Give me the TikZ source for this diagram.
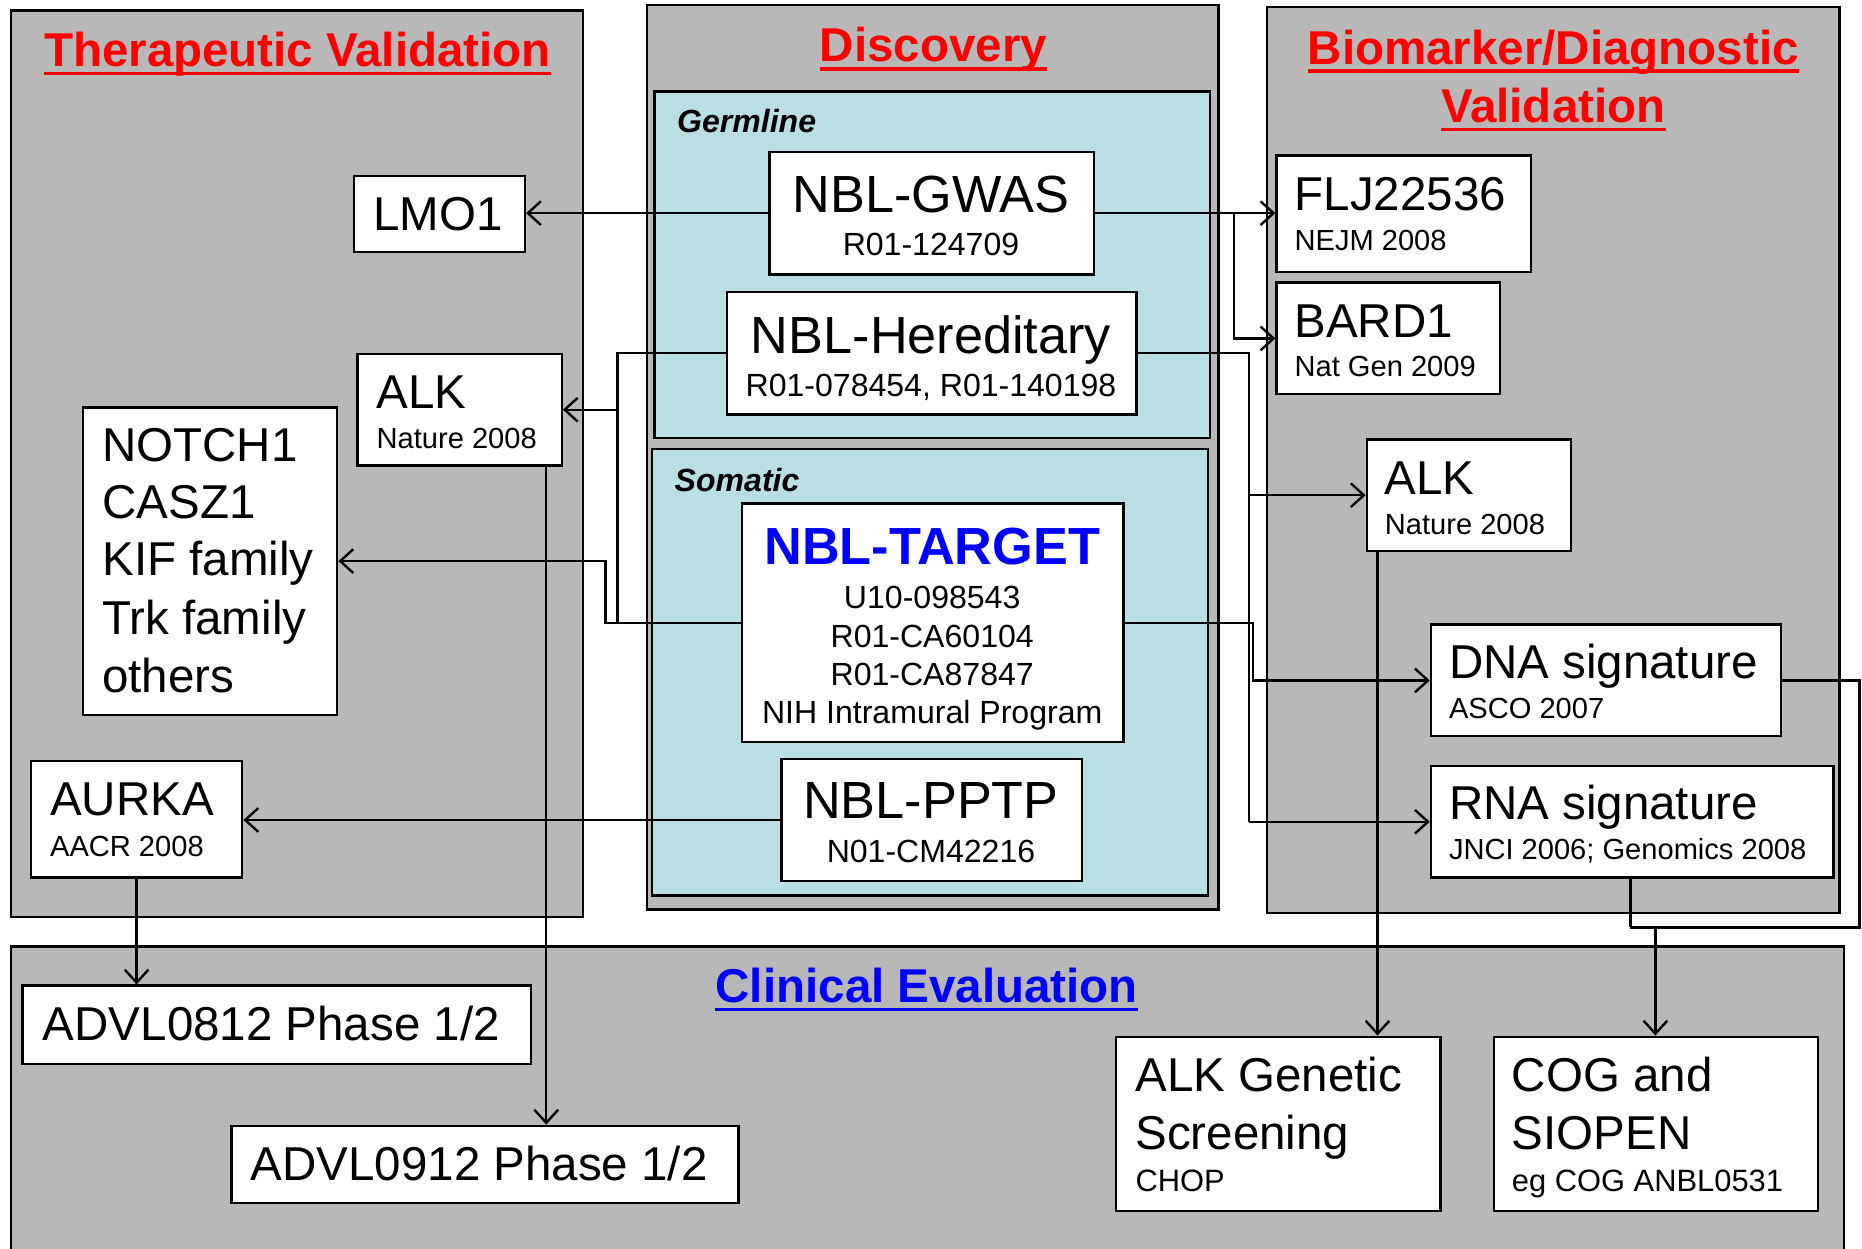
\documentclass[tikz,border=0pt]{standalone}
\usepackage{fontspec}
\setmainfont{Liberation Sans}
\usetikzlibrary{arrows.meta}
\definecolor{panelgray}{RGB}{184,184,184}
\definecolor{lightblue}{RGB}{185,223,227}
\definecolor{ttlred}{RGB}{255,0,0}
\definecolor{ttlblue}{RGB}{0,0,255}
\newcommand\fsz[1]{\fontsize{#1}{#1}\selectfont}
\begin{document}
\begin{tikzpicture}[x=1pt,y=-1pt,
  panel/.style={draw=black, fill=panelgray, line width=2pt},
  innerpanel/.style={draw=black, fill=lightblue, line width=2pt},
  box/.style={draw=black, fill=white, line width=2pt, anchor=north west, inner sep=0pt},
  txt/.style={inner sep=0pt, anchor=base west, font=\fsz{40}},
  subtxt/.style={inner sep=0pt, anchor=base west, font=\fsz{24.5}},
  nbl/.style={inner sep=0pt, anchor=base, font=\fsz{44}},
  nblsub/.style={inner sep=0pt, anchor=base, font=\fsz{27}},
  lbl/.style={inner sep=0pt, anchor=base west, font=\fsz{27}\bfseries\itshape},
  ttl/.style={inner sep=0pt, anchor=base, font=\fsz{40}\bfseries},
  conn/.style={line width=2pt, -{Straight Barb[length=11pt,width=20pt,line width=2pt]}},
  plain/.style={line width=2pt},
]
\useasboundingbox (0,0) rectangle (1568,1051);
\clip (0,0) rectangle (1568,1051);
\fill[white] (0,0) rectangle (1568,1051);

% ---------- panels ----------
\draw[panel] (9,9) rectangle (491,772);
\draw[panel] (545,4) rectangle (1026,766);
\draw[innerpanel] (551,77) rectangle (1019,369);
\draw[innerpanel] (549,378) rectangle (1017,754);
\draw[panel] (1067,6) rectangle (1549,769);
\draw[panel] (9,797) rectangle (1553,1070);

% ---------- titles ----------
\node[ttl, text=ttlred] (t1) at (250.5,56) {Therapeutic Validation};
\draw[ttlred, line width=3pt] ([yshift=-6pt]t1.base west) -- ([yshift=-6pt]t1.base east);
\node[ttl, text=ttlred] (t2) at (786,52) {Discovery};
\draw[ttlred, line width=3pt] ([yshift=-6pt]t2.base west) -- ([yshift=-6pt]t2.base east);
\node[ttl, text=ttlred] (t3a) at (1308,54) {Biomarker/Diagnostic};
\draw[ttlred, line width=3pt] ([yshift=-6pt]t3a.base west) -- ([yshift=-6pt]t3a.base east);
\node[ttl, text=ttlred] (t3b) at (1308,103) {Validation};
\draw[ttlred, line width=3pt] ([yshift=-6pt]t3b.base west) -- ([yshift=-6pt]t3b.base east);
\node[ttl, text=ttlblue] (t4) at (780.5,844) {Clinical Evaluation};
\draw[ttlblue, line width=3pt] ([yshift=-6pt]t4.base west) -- ([yshift=-6pt]t4.base east);

\node[lbl] (lgerm) at (570,112) {Germline};
\node[lbl] (lsom) at (568,414) {Somatic};

% ---------- boxes ----------
\node[box, minimum width=144pt, minimum height=64pt] (lmo) at (297,147) {};
\node[box, minimum width=172pt, minimum height=94pt] (alkl) at (300,297) {};
\node[box, minimum width=214pt, minimum height=259pt] (notch) at (69,342) {};
\node[box, minimum width=178pt, minimum height=98pt] (aurka) at (25,640) {};
\node[box, minimum width=273pt, minimum height=103pt] (gwas) at (647,127) {};
\node[box, minimum width=345pt, minimum height=103pt] (hered) at (611,245) {};
\node[box, minimum width=321pt, minimum height=201pt] (target) at (624,423) {};
\node[box, minimum width=253pt, minimum height=103pt] (pptp) at (657,638) {};
\node[box, minimum width=214pt, minimum height=98pt] (flj) at (1074,130) {};
\node[box, minimum width=188pt, minimum height=94pt] (bard) at (1074,237) {};
\node[box, minimum width=172pt, minimum height=94pt] (alkr) at (1150,369) {};
\node[box, minimum width=295pt, minimum height=94pt] (dna) at (1204,525) {};
\node[box, minimum width=339pt, minimum height=94pt] (rna) at (1204,644) {};
\node[box, minimum width=428pt, minimum height=66pt] (advla) at (18,829) {};
\node[box, minimum width=427pt, minimum height=65pt] (advlb) at (194,947) {};
\node[box, minimum width=273pt, minimum height=147pt] (alkg) at (939,872) {};
\node[box, minimum width=273pt, minimum height=147pt] (cog) at (1257,872) {};

% ---------- texts ----------
\node[txt] (xlmo) at (314,194) {LMO1};
\node[txt] (xalkl) at (317,344) {ALK};
\node[subtxt] (xalkl2) at (317,378) {Nature 2008};
\node[txt] (xn1) at (86,389) {NOTCH1};
\node[txt] (xn2) at (86,437) {CASZ1};
\node[txt] (xn3) at (86,485) {KIF family};
\node[txt] (xn4) at (86,534) {Trk family};
\node[txt] (xn5) at (86,583) {others};
\node[txt] (xau) at (42,687) {AURKA};
\node[subtxt] (xau2) at (42,721) {AACR 2008};

\node[nbl] (xg1) at (784,179) {NBL-GWAS};
\node[nblsub] (xg2) at (784,215) {R01-124709};
\node[nbl] (xh1) at (784,298) {NBL-Hereditary};
\node[nblsub] (xh2) at (784,334) {R01-078454, R01-140198};
\node[nbl, font=\fsz{44}\bfseries, text=ttlblue] (xt1) at (785,475) {NBL-TARGET};
\node[nblsub] (xt2) at (785,512) {U10-098543};
\node[nblsub] (xt3) at (785,545) {R01-CA60104};
\node[nblsub] (xt4) at (785,577) {R01-CA87847};
\node[nblsub] (xt5) at (785,609) {NIH Intramural Program};
\node[nbl] (xp1) at (784,689) {NBL-PPTP};
\node[nblsub] (xp2) at (784,726) {N01-CM42216};

\node[txt] (xf1) at (1090,177) {FLJ22536};
\node[subtxt] (xf2) at (1090,211) {NEJM 2008};
\node[txt] (xb1) at (1090,284) {BARD1};
\node[subtxt] (xb2) at (1090,317) {Nat Gen 2009};
\node[txt] (xk1) at (1166,416) {ALK};
\node[subtxt] (xk2) at (1166,450) {Nature 2008};
\node[txt] (xd1) at (1220,571) {DNA signature};
\node[subtxt] (xd2) at (1220,605) {ASCO 2007};
\node[txt] (xr1) at (1220,690) {RNA signature};
\node[subtxt] (xr2) at (1220,724) {JNCI 2006; Genomics 2008};

\node[txt] (xa1) at (36,876) {ADVL0812 Phase 1/2};
\node[txt] (xa2) at (211,994) {ADVL0912 Phase 1/2};
\node[txt] (xs1) at (956,919) {ALK Genetic};
\node[txt] (xs2) at (956,968) {Screening};
\node[subtxt, font=\fsz{26}] (xs3) at (956,1003) {CHOP};
\node[txt] (xc1) at (1273,919) {COG and};
\node[txt] (xc2) at (1273,968) {SIOPEN};
\node[subtxt, font=\fsz{26}] (xc3) at (1273,1003) {eg COG ANBL0531};

% ---------- junction coordinates ----------
\coordinate (jg) at (1039,0);
\coordinate (jhl) at (520,0);
\coordinate (jtl) at (510,0);
\coordinate (ja) at (460,0);
\coordinate (jhr) at (1052,0);
\coordinate (jtr) at (1055,0);
\coordinate (jk) at (1160,0);
\coordinate (jr) at (1566,781);
\coordinate (jm) at (1373,781);
\coordinate (jc) at (1394,781);

% ---------- connectors ----------
\draw[conn] (gwas.west) -- (gwas.west -| lmo.east);
\draw[conn] (gwas.east) -- (gwas.east -| flj.west);
\draw[conn] (gwas.east -| jg) |- (bard.west);

\draw[plain] (hered.west) -| (jhl |- target.west) -- (target.west);
\draw[conn] (jhl |- alkl.east) -- (alkl.east);
\draw[conn] (target.west) -| (jtl |- notch.east) -- (notch.east);

\draw[conn] (pptp.west) -- (pptp.west -| aurka.east);
\draw[conn] (aurka.south) -- (aurka.south |- advla.north);
\draw[conn] (ja |- alkl.south) -- (ja |- advlb.north);

\draw[plain] (hered.east) -| (jhr |- rna.west);
\draw[conn] (jhr |- rna.west) -- (rna.west);
\draw[conn] (jhr |- alkr.west) -- (alkr.west);
\draw[conn] (target.east) -| (jtr |- dna.west) -- (dna.west);

\draw[conn] (jk |- alkr.south) -- (jk |- alkg.north);

\draw[plain] (dna.east) -| (jr) -- (jm);
\draw[plain] (jm |- rna.south) -- (jm);
\draw[conn] (jc) -- (jc |- cog.north);
\end{tikzpicture}
\end{document}
